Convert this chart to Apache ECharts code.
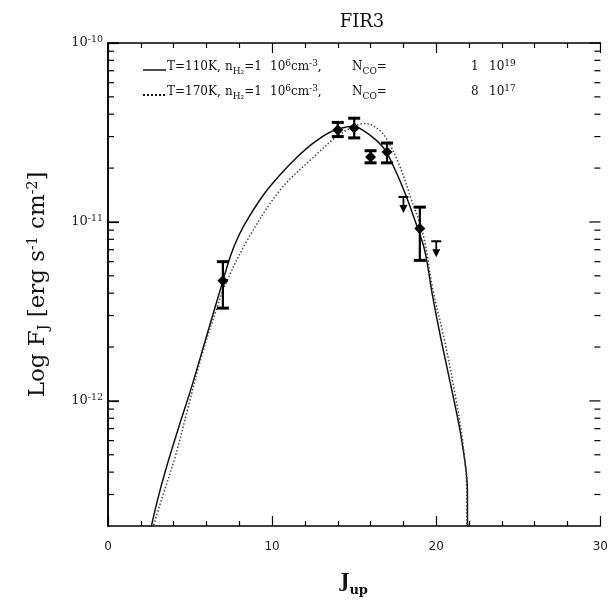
<!DOCTYPE html>
<html><head><meta charset="utf-8">
<script src="https://cdn.jsdelivr.net/npm/echarts@6/dist/echarts.min.js"></script>
<style>html,body{margin:0;padding:0;background:#fff}#c{width:611px;height:603px}</style>
</head><body><div id="c"></div>
<script>
// Model curve T=110K (solid): J_up and log10 F_J
const jSolid    = [2.4, 3.0, 3.5, 4.3, 5.1, 6.0, 6.9, 7.5, 8.0, 8.5, 9.5, 10.5, 11.5, 12.5, 13.5, 14.5, 15.0, 15.5, 16.3, 16.9, 17.5, 18.1, 18.7, 19.3, 19.75, 20.3, 20.95, 21.55, 21.9, 21.92];
const logFSolid = [-12.80, -12.56, -12.39, -12.15, -11.92, -11.64, -11.36, -11.18, -11.07, -10.985, -10.845, -10.735, -10.64, -10.56, -10.50, -10.47, -10.465, -10.486, -10.54, -10.60, -10.71, -10.84, -10.99, -11.16, -11.40, -11.66, -11.94, -12.22, -12.50, -14.0];
// Model curve T=170K (dotted)
const jDotted    = [2.6, 3.3, 4.1, 4.9, 5.7, 6.6, 7.1, 8.5, 10.5, 12.5, 13.9, 15.0, 15.7, 16.3, 16.9, 17.7, 18.5, 19.2, 19.8, 20.5, 21.1, 21.6, 21.85, 21.87];
const logFDotted = [-12.75, -12.54, -12.31, -12.03, -11.75, -11.49, -11.36, -11.10, -10.82, -10.64, -10.525, -10.465, -10.45, -10.47, -10.525, -10.67, -10.88, -11.07, -11.38, -11.66, -11.94, -12.22, -12.50, -14.0];
// Observed fluxes with error bars
const obsJ  = [7, 14, 15, 16, 17, 19];
const obsF  = [4.7e-12, 3.27e-11, 3.35e-11, 2.31e-11, 2.46e-11, 9.2e-12];
const obsLo = [3.3e-12, 3.0e-11, 2.95e-11, 2.14e-11, 2.14e-11, 6.1e-12];
const obsHi = [6.0e-12, 3.6e-11, 3.8e-11, 2.5e-11, 2.76e-11, 1.21e-11];
// Upper limits
const limJ = [18, 20];
const limF = [1.38e-11, 7.8e-12];
// Axis ranges / ticks
const xMin = 0, xMax = 30, xStep = 10;
const yMin = 2e-13, yMax = 1e-10;
const yMajorTicks = [1e-12, 1e-11, 1e-10];
const yMinorTicks = [3e-13,4e-13,5e-13,6e-13,7e-13,8e-13,9e-13,2e-12,3e-12,4e-12,5e-12,6e-12,7e-12,8e-12,9e-12,2e-11,3e-11,4e-11,5e-11,6e-11,7e-11,8e-11,9e-11];
// Legend text pieces
const legendSolid  = ['T=110K,', 'n{sub|H₂}=1', '10{sup|6}cm{sup|-3},', 'N{sub|CO}=', '1', '10{sup|19}'];
const legendDotted = ['T=170K,', 'n{sub|H₂}=1', '10{sup|6}cm{sup|-3},', 'N{sub|CO}=', '8', '10{sup|17}'];

const serif = '"DejaVu Serif", "Liberation Serif", serif';
const solidData = jSolid.map((j, i) => [j, Math.pow(10, logFSolid[i])]);
const dottedData = jDotted.map((j, i) => [j, Math.pow(10, logFDotted[i])]);
const obsData = obsJ.map((j, i) => [j, obsF[i], obsLo[i], obsHi[i]]);
const limData = limJ.map((j, i) => [j, limF[i]]);
const allTicks = yMajorTicks.concat(yMinorTicks);
const rightTickData = allTicks.map(v => [xMax, v]);
const isMajor = v => { const e = Math.log10(v); return Math.abs(e - Math.round(e)) < 1e-6; };

const chart = echarts.init(document.getElementById('c'), null, {renderer: 'canvas'});
const axisLineStyle = {color: '#000', width: 1.5};
const yLabelFmt = v => isMajor(v) ? '10{s|' + Math.round(Math.log10(v)) + '}' : '';
const legRich = {
  sub: {fontFamily: serif, fontSize: 9, padding: [9, 0, 0, 0], color: '#111'},
  sup: {fontFamily: serif, fontSize: 9, verticalAlign: 'top', padding: [0, 0, 7, 0], color: '#111'}
};
const pieceX = [167, 225, 270, 352, 471, 489];
const legendGraphics = [];
[[legendSolid, 67, 70, null], [legendDotted, 92, 95, [2, 2]]].forEach(([pieces, ty, ly, dash]) => {
  legendGraphics.push({type: 'line', shape: {x1: 143, y1: ly, x2: 166, y2: ly},
    style: {stroke: '#111', lineWidth: dash ? 2 : 1.5, lineDash: dash}});
  pieces.forEach((p, k) => legendGraphics.push({type: 'text', x: pieceX[k], y: ty,
    style: {text: p, fontFamily: serif, fontSize: 12, fill: '#111', verticalAlign: 'middle', rich: legRich}}));
});

chart.setOption({
  animation: false,
  title: {
    text: 'FIR3', left: 357, top: 8, textAlign: 'center',
    textStyle: {fontFamily: serif, fontWeight: 'normal', fontSize: 18, color: '#111'}
  },
  graphic: legendGraphics,
  grid: {left: 108, right: 5, top: 43, bottom: 77},
  xAxis: [{
    type: 'value', min: xMin, max: xMax, interval: xStep, position: 'bottom',
    name: 'J{s|up}', nameLocation: 'middle', nameGap: 42,
    nameTextStyle: {fontFamily: serif, fontWeight: 'bold', fontSize: 19, color: '#111',
      rich: {s: {fontFamily: serif, fontWeight: 'bold', fontSize: 13, padding: [16, 0, 0, 0], color: '#111'}}},
    axisLine: {lineStyle: axisLineStyle},
    axisTick: {inside: true, length: 10, lineStyle: {color: '#000', width: 1.2}},
    minorTick: {show: true, splitNumber: 5, length: 5, lineStyle: {color: '#000', width: 1.2}},
    axisLabel: {margin: 15, fontFamily: '"DejaVu Sans", sans-serif', fontSize: 12, color: '#222'},
    splitLine: {show: false}
  }, {
    type: 'value', min: xMin, max: xMax, interval: xStep, position: 'top',
    axisLine: {lineStyle: axisLineStyle},
    axisTick: {inside: true, length: 10, lineStyle: {color: '#000', width: 1.2}},
    minorTick: {show: true, splitNumber: 5, length: 5, lineStyle: {color: '#000', width: 1.2}},
    axisLabel: {show: false}, splitLine: {show: false}
  }],
  yAxis: [{
    type: 'log', logBase: 10, min: yMin, max: yMax, position: 'left',
    name: 'Log F{sub|J} [erg s{sup|-1} cm{sup|-2}]', nameLocation: 'middle', nameGap: 57, nameRotate: 90,
    nameTextStyle: {fontFamily: serif, fontSize: 23, color: '#111',
      rich: {
        sub: {fontFamily: serif, fontSize: 14, padding: [11, 0, 0, 0], color: '#111'},
        sup: {fontFamily: serif, fontSize: 14, verticalAlign: 'top', padding: [0, 0, 11, 0], color: '#111'}
      }},
    axisLine: {lineStyle: axisLineStyle},
    axisTick: {show: true, inside: true, length: 11, lineStyle: {color: '#000', width: 1.2}},
    axisLabel: {formatter: yLabelFmt, showMinLabel: false, margin: 5, fontFamily: serif, fontSize: 13, color: '#222',
      rich: {s: {fontFamily: serif, fontSize: 9.5, verticalAlign: 'top', padding: [0, 0, 7, 0], color: '#222'}}},
    splitLine: {show: false}
  }, {
    type: 'log', logBase: 10, min: yMin, max: yMax, position: 'right',
    axisLine: {lineStyle: axisLineStyle},
    axisTick: {show: false},
    axisLabel: {show: false}, splitLine: {show: false}
  }],
  series: [{
    name: 'T110', type: 'line', data: solidData, showSymbol: false, symbol: 'none',
    smooth: 0.35, clip: true,
    lineStyle: {color: '#111', width: 1.5}
  }, {
    name: 'T170', type: 'line', data: dottedData, showSymbol: false, symbol: 'none',
    smooth: 0.35, clip: true,
    lineStyle: {color: '#444', width: 1.5, type: [1.5, 2]}
  }, {
    type: 'custom', data: obsData, clip: false, z: 5,
    renderItem: (params, api) => {
      const c = api.coord([api.value(0), api.value(1)]);
      const lo = api.coord([api.value(0), api.value(2)]);
      const hi = api.coord([api.value(0), api.value(3)]);
      const w = 6, d = 5.5;
      return {type: 'group', children: [
        {type: 'line', shape: {x1: c[0], y1: lo[1], x2: c[0], y2: hi[1]}, style: {stroke: '#000', lineWidth: 2.2}},
        {type: 'line', shape: {x1: c[0] - w, y1: lo[1], x2: c[0] + w, y2: lo[1]}, style: {stroke: '#000', lineWidth: 3}},
        {type: 'line', shape: {x1: c[0] - w, y1: hi[1], x2: c[0] + w, y2: hi[1]}, style: {stroke: '#000', lineWidth: 3}},
        {type: 'polygon', shape: {points: [[c[0], c[1] - d], [c[0] + d, c[1]], [c[0], c[1] + d], [c[0] - d, c[1]]]}, style: {fill: '#000'}}
      ]};
    }
  }, {
    type: 'custom', data: limData, clip: false, z: 5,
    renderItem: (params, api) => {
      const c = api.coord([api.value(0), api.value(1)]);
      return {type: 'group', children: [
        {type: 'line', shape: {x1: c[0] - 5, y1: c[1], x2: c[0] + 5, y2: c[1]}, style: {stroke: '#000', lineWidth: 2}},
        {type: 'line', shape: {x1: c[0], y1: c[1], x2: c[0], y2: c[1] + 10}, style: {stroke: '#000', lineWidth: 1.8}},
        {type: 'polygon', shape: {points: [[c[0] - 4, c[1] + 8], [c[0] + 4, c[1] + 8], [c[0], c[1] + 16]]}, style: {fill: '#000'}}
      ]};
    }
  }, {
    type: 'custom', data: rightTickData, clip: false, z: 6, silent: true,
    renderItem: (params, api) => {
      const v = Number(api.value(1));
      const len = isMajor(v) ? 11 : 6;
      const p = api.coord([xMax, v]);
      return {type: 'line', shape: {x1: p[0], y1: p[1], x2: p[0] - len, y2: p[1]},
        style: {stroke: '#000', lineWidth: 1.2}};
    }
  }]
});

// Left-side y ticks, placed through the chart's own coordinate conversion
const leftTicks = allTicks.map(v => {
  const p = chart.convertToPixel({xAxisIndex: 0, yAxisIndex: 0}, [xMin, v]);
  const len = isMajor(v) ? 11 : 6;
  return {type: 'line', z: 100, silent: true,
    shape: {x1: p[0], y1: p[1], x2: p[0] + len, y2: p[1]},
    style: {stroke: '#000', lineWidth: 1.2}};
});
chart.setOption({graphic: legendGraphics.concat(leftTicks)});
</script></body></html>
